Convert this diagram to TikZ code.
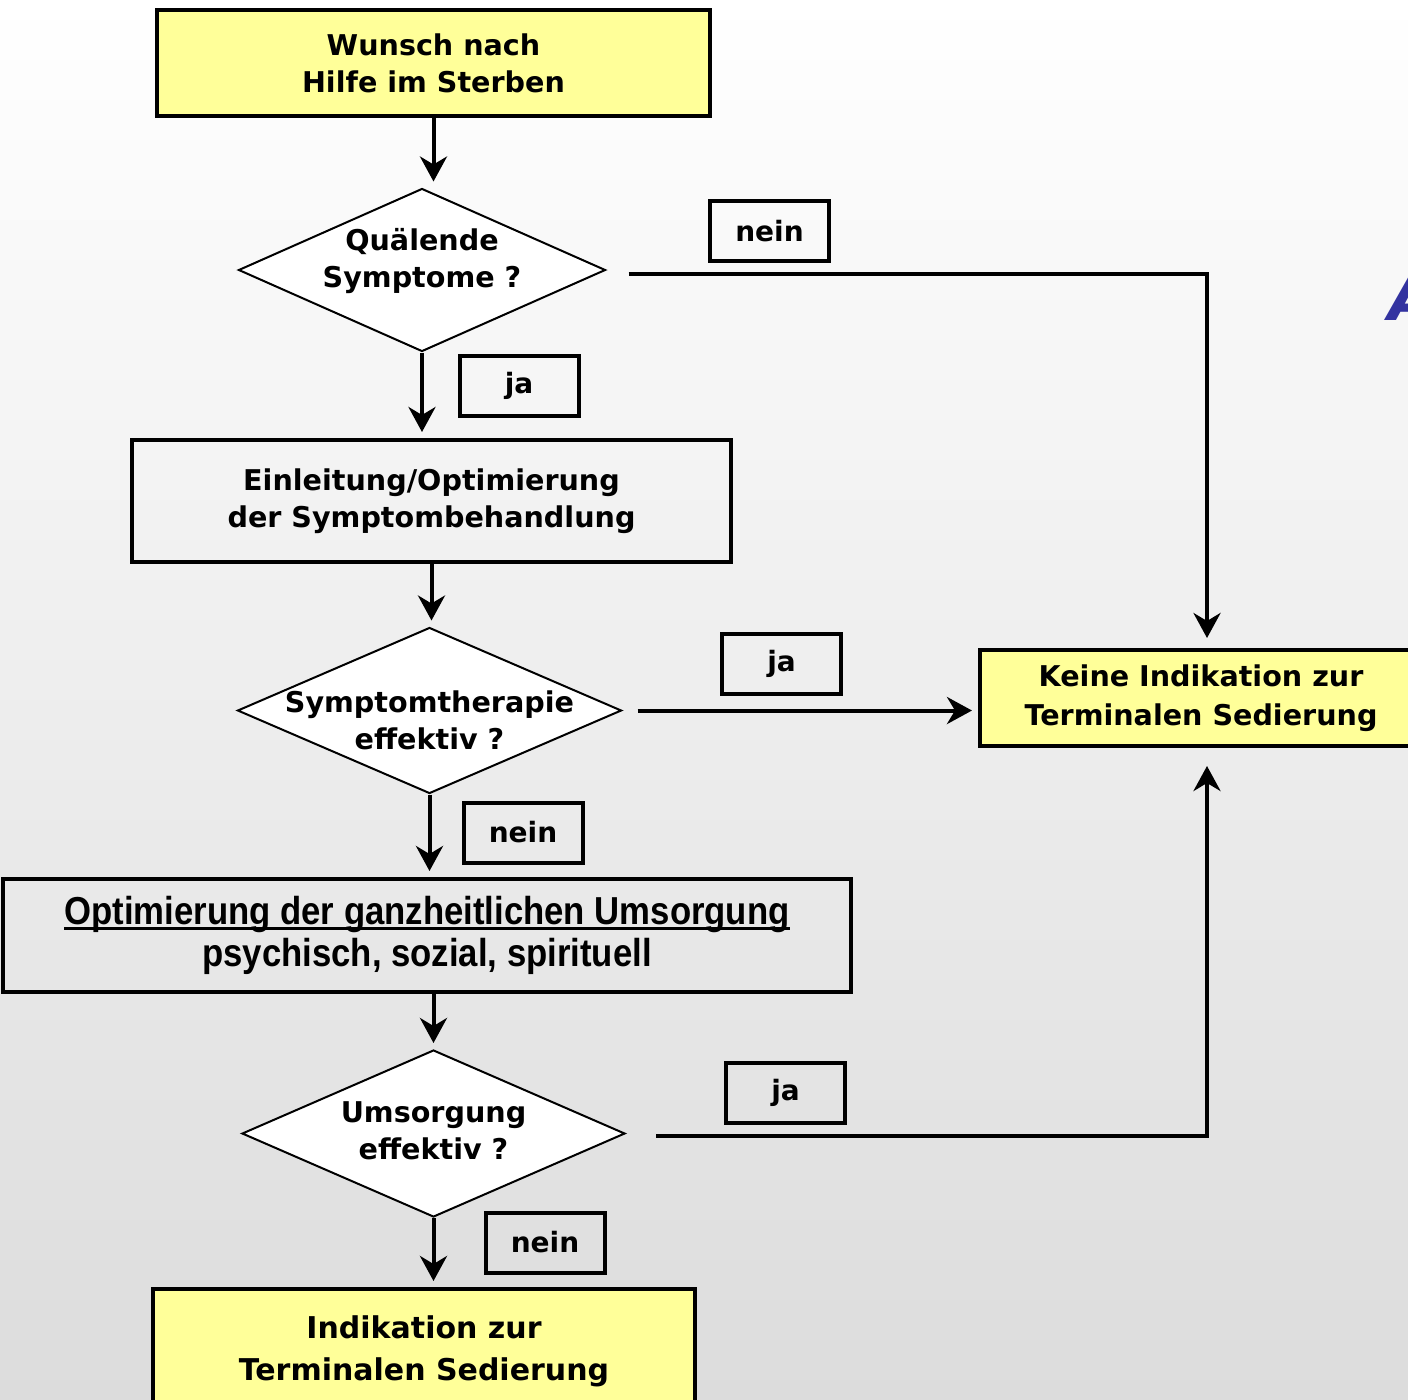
\documentclass[tikz,border=0pt]{standalone}
\usepackage{fontspec}
\setmainfont{DejaVu Sans}
\newfontfamily\narrowfont[FakeStretch=0.89]{Liberation Sans}
\usetikzlibrary{shapes.geometric,arrows.meta}
\definecolor{hellgelb}{RGB}{255,255,153}
\definecolor{titelblau}{RGB}{51,51,160}
\definecolor{hgunten}{RGB}{220,220,220}
\newcommand\dickunter[1]{\leavevmode\setbox0\hbox{#1}\rlap{\rule[-2.6pt]{\wd0}{1.4pt}}\box0}

\begin{document}
\begin{tikzpicture}[x=0.5pt,y=-0.5pt,-{Stealth[length=12.5pt,width=13.5pt,inset=4pt]},
    line width=2pt,shorten >=3pt,
    every node/.style={font=\bfseries\fontsize{14.3}{18.5}\selectfont,align=center,inner sep=0pt},
    box node/.style={rectangle,draw,line width=2pt},
    gelb node/.style={box node,fill=hellgelb},
    frage node/.style={diamond,draw,fill=white,line width=1pt,minimum width=192pt,minimum height=83pt},
    antwort node/.style={rectangle,draw,line width=2pt,minimum width=59.5pt,minimum height=30pt,font=\bfseries\fontsize{14}{16}\selectfont}]

  % background
  \useasboundingbox (0,0) rectangle (1408,1399);
  \shade[top color=white,bottom color=hgunten,draw=none] (0,0) rectangle (1408,1399);

  \node[text=titelblau,anchor=west,font=\bfseries\itshape\fontsize{31}{31}\selectfont] (titel) at (1386,298) {A};

  % boxes
  \node[gelb node,minimum width=276.5pt,minimum height=53pt] (wunsch) at (433.5,63) {Wunsch nach\\Hilfe im Sterben};
  \node[box node,minimum width=299.5pt,minimum height=61pt] (einleitung) at (431.5,501) {Einleitung/Optimierung\\der Symptombehandlung};
  \node[box node,minimum width=424pt,minimum height=56.5pt,font=\narrowfont\bfseries\fontsize{19.5}{21}\selectfont] (umsorgung) at (427,935.5)
    {\dickunter{Optimierung der ganzheitlichen Umsorgung}\\psychisch, sozial, spirituell};
  \node[gelb node,minimum width=221pt,minimum height=48pt,font=\bfseries\fontsize{14.3}{19.5}\selectfont] (keine) at (1201,698) {Keine Indikation zur\\Terminalen Sedierung};
  \node[gelb node,minimum width=271pt,minimum height=62pt,font=\bfseries\fontsize{15}{21}\selectfont] (indikation) at (424,1351) {Indikation zur\\Terminalen Sedierung};

  % decisions
  \node[frage node,minimum width=183.5pt,minimum height=81.5pt] (d1) at (422,270) {};
  \node (d1text) at (422,261) {Quälende\\Symptome ?};
  \node[frage node] (d2) at (429.5,710.5) {};
  \node (d2text) at (429.5,720) {Symptomtherapie\\effektiv ?};
  \node[frage node,minimum width=191.5pt,minimum height=83.5pt] (d3) at (433.5,1133.5) {};
  \node (d3text) at (433.5,1131) {Umsorgung\\effektiv ?};

  % answers
  \node[antwort node] (nein1) at (769.5,231) {nein};
  \node[antwort node] (ja1) at (519,385.5) {ja};
  \node[antwort node] (ja2) at (781.5,663.5) {ja};
  \node[antwort node] (nein2) at (523,832.5) {nein};
  \node[antwort node] (ja3) at (785.5,1092.5) {ja};
  \node[antwort node] (nein3) at (545,1242.5) {nein};

  \path
    (wunsch.south) edge (wunsch.south |- d1.north)
    (d1.south) edge (d1.south |- einleitung.north)
    (einleitung.south) edge (einleitung.south |- d2.north)
    (d2.south) edge (d2.south |- umsorgung.north)
    (d3.north |- umsorgung.south) edge (d3.north)
    (d3.south) edge (d3.south |- indikation.north)
    (d2.east) edge[shorten <=7.5pt] (d2.east -| keine.west);

  \draw[shorten <=11pt,shorten >=5pt] ([yshift=-2pt]d1.east) -| ([xshift=3pt]keine.north);
  \draw[shorten <=15pt,shorten >=9pt] ([yshift=-1pt]d3.east) -| ([xshift=3pt]keine.south);
\end{tikzpicture}
\end{document}
